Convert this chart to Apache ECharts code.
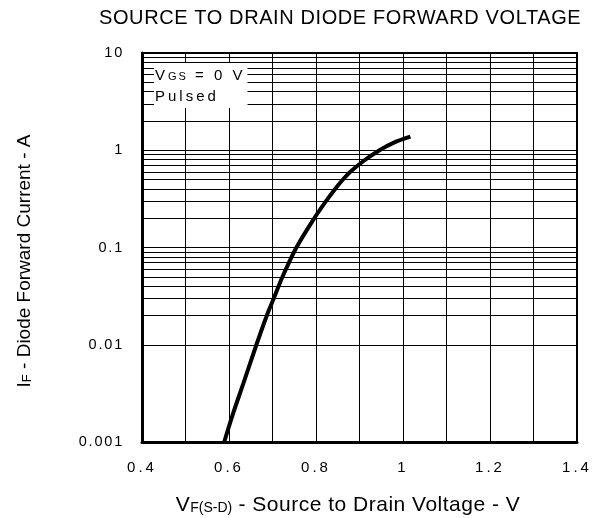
<!DOCTYPE html>
<html>
<head>
<meta charset="utf-8">
<script src="https://cdn.jsdelivr.net/npm/echarts@6/dist/echarts.min.js"></script>
<style>
html,body{margin:0;padding:0;background:#fff;}
#c{width:592px;height:518px;}
</style>
</head>
<body>
<div id="c"></div>
<script>
// Source-to-drain diode forward voltage (V) vs forward current (A)
const voltage = [0.589, 0.610, 0.633, 0.663, 0.687, 0.703, 0.723, 0.755, 0.796, 0.823, 0.844, 0.862, 0.879, 0.910, 0.946, 0.979, 1.017];
const current = [0.001, 0.002, 0.004, 0.01, 0.02, 0.03, 0.05, 0.1, 0.2, 0.3, 0.4, 0.5, 0.6, 0.78, 1.0, 1.2, 1.38];
const xTickLabels = ['0.4', '0.6', '0.8', '1', '1.2', '1.4'];
const yTickLabels = ['0.001', '0.01', '0.1', '1', '10'];
const titleText = 'SOURCE TO DRAIN DIODE FORWARD VOLTAGE';

const FONT = 'Liberation Sans, Arial, sans-serif';

// letter spacing per font size (the reference text is set with wide tracking)
(function () {
  const proto = window.CanvasRenderingContext2D && CanvasRenderingContext2D.prototype;
  if (!proto || !('letterSpacing' in proto)) return;
  const d = Object.getOwnPropertyDescriptor(proto, 'font');
  if (!d || !d.set) return;
  const spacing = { '15': 3, '14.5': 1.8, '20': 0.6, '21': 0.5, '11': 2 };
  Object.defineProperty(proto, 'font', {
    configurable: true,
    enumerable: d.enumerable,
    get: function () { return d.get.call(this); },
    set: function (v) {
      d.set.call(this, v);
      const m = /([\d.]+)px/.exec(v);
      const ls = m && spacing[m[1]] ? spacing[m[1]] : 0;
      this.letterSpacing = ls + 'px';
    }
  });
})();

// minor log gridlines (2..9 within each decade)
const minorLines = [];
for (let d = -3; d < 1; d++) {
  for (let k = 2; k <= 9; k++) {
    minorLines.push({ yAxis: k * Math.pow(10, d) });
  }
}

const chart = echarts.init(document.getElementById('c'), null, { renderer: 'canvas' });
chart.setOption({
  animation: false,
  backgroundColor: '#fff',
  textStyle: { fontFamily: FONT },
  title: {
    text: titleText,
    left: 99,
    top: 8,
    padding: 0,
    textStyle: { fontSize: 20, fontWeight: 'normal', color: '#000', fontFamily: FONT }
  },
  grid: {
    left: 142, right: 15, top: 53, bottom: 76,
    outerBoundsMode: 'none',
    containLabel: false,
    show: true, borderColor: '#000', borderWidth: 2, backgroundColor: 'transparent'
  },
  xAxis: {
    type: 'value',
    min: 0.4, max: 1.4, interval: 0.1,
    axisLine: { show: true, onZero: false, lineStyle: { color: '#000', width: 3 } },
    axisTick: { show: false },
    splitLine: { show: true, lineStyle: { color: '#000', width: 1 } },
    axisLabel: {
      margin: 17, color: '#000', fontSize: 15, fontFamily: FONT,
      formatter: function (v) {
        const s = String(Math.round(v * 10) / 10);
        return xTickLabels.indexOf(s) >= 0 ? s : '';
      }
    },
    name: '{m|V}{s|F(S-D)}{m| - Source to Drain Voltage - V}',
    nameLocation: 'middle',
    nameGap: 52,
    nameTextStyle: {
      padding: [0, 23, 0, 0],
      rich: {
        m: { fontSize: 21, color: '#000', fontFamily: FONT },
        s: { fontSize: 14, color: '#000', fontFamily: FONT, padding: [6, 0, 0, 0] }
      }
    }
  },
  yAxis: {
    type: 'log', logBase: 10,
    min: 0.001, max: 10,
    axisLine: { show: true, onZero: false, lineStyle: { color: '#000', width: 3 } },
    axisTick: { show: false },
    splitLine: { show: true, lineStyle: { color: '#000', width: 1 } },
    axisLabel: {
      margin: 18, color: '#000', fontSize: 14.5, fontFamily: FONT,
      formatter: function (v) {
        const s = String(parseFloat(v.toPrecision(3)));
        return yTickLabels.indexOf(s) >= 0 ? s : '';
      }
    },
    name: '{m|I}{s|F}{m| - Diode Forward Current - A}',
    nameLocation: 'middle',
    nameGap: 108,
    nameTextStyle: {
      padding: [0, 27, 0, 0],
      rich: {
        m: { fontSize: 19, color: '#000', fontFamily: FONT },
        s: { fontSize: 13, color: '#000', fontFamily: FONT, padding: [5, 0, 0, 0] }
      }
    }
  },
  graphic: [{
    type: 'text',
    left: 154, top: 63,
    z: 10,
    style: {
      text: '{a|V}{b|GS}{a| = 0 V}\n{a|Pulsed}',
      backgroundColor: '#fff',
      padding: [2, 2, 1, 1],
      rich: {
        a: { fontSize: 15, fill: '#000', fontFamily: FONT, lineHeight: 21 },
        b: { fontSize: 11, fill: '#000', fontFamily: FONT, lineHeight: 21, padding: [3, 0, 0, 0] }
      }
    }
  }],
  series: [{
    type: 'line',
    data: voltage.map((v, i) => [v, current[i]]),
    smooth: 0.3,
    showSymbol: false,
    lineStyle: { color: '#000', width: 4 },
    z: 5,
    markLine: {
      silent: true,
      symbol: ['none', 'none'],
      label: { show: false },
      lineStyle: { color: '#000', width: 1, type: 'solid' },
      data: minorLines,
      animation: false
    }
  }]
});
</script>
</body>
</html>
